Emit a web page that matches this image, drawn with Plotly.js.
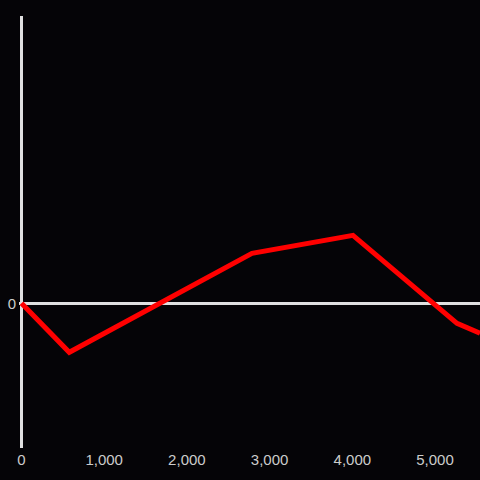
<!DOCTYPE html>
<html>
<head>
<meta charset="utf-8">
<script src="https://cdn.plot.ly/plotly-3.0.1.min.js"></script>
<style>html,body{margin:0;padding:0;background:#050407;}#chart{width:480px;height:480px;}</style>
</head>
<body>
<div id="chart"></div>
<script>
const xValues = [0, 365, 578, 2787, 4008, 5266, 5544];
const yValues = [0, -30, -49, 50, 68, -20, -30];
const xTickVals = [0, 1000, 2000, 3000, 4000, 5000];
const xTickText = ['0', '1,000', '2,000', '3,000', '4,000', '5,000'];

Plotly.newPlot('chart', [{
  x: xValues, y: yValues, type: 'scatter', mode: 'lines',
  line: {color: '#ff0000', width: 5}, hoverinfo: 'none'
}], {
  width: 480, height: 480,
  paper_bgcolor: '#050407', plot_bgcolor: '#050407',
  margin: {l: 19, r: 0, t: 16, b: 32},
  showlegend: false,
  font: {family: 'Liberation Sans, Arial, sans-serif', size: 15, color: '#cccccc'},
  xaxis: {range: [-30, 5544], tickvals: xTickVals, ticktext: xTickText, showgrid: false,
          zeroline: true, zerolinecolor: '#e0e0e0', zerolinewidth: 3,
          showline: false, ticks: '', ticklabelstandoff: 1},
  yaxis: {range: [-144.7, 287.3], tickvals: [0], ticktext: ['0'], showgrid: false,
          zeroline: true, zerolinecolor: '#e0e0e0', zerolinewidth: 3,
          showline: false, ticks: '', ticklabelstandoff: 2}
}, {displayModeBar: false, staticPlot: true});
</script>
</body>
</html>
